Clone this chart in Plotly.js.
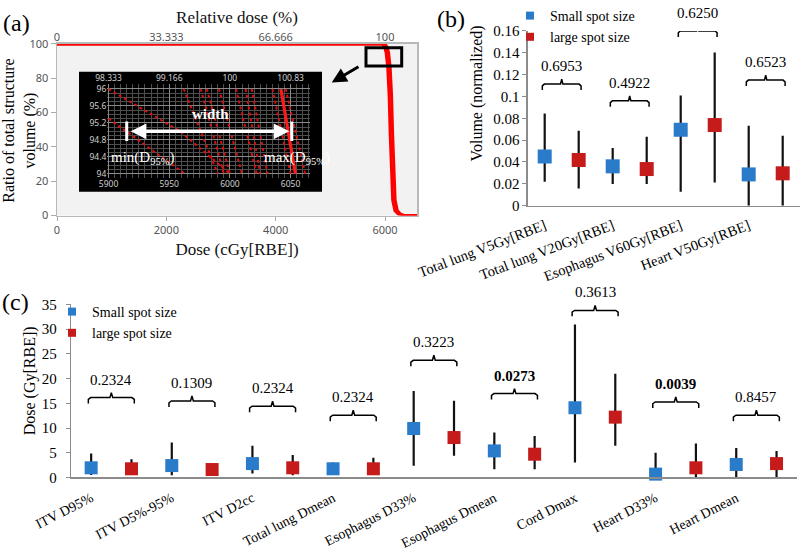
<!DOCTYPE html>
<html><head><meta charset="utf-8">
<script src="https://cdn.plot.ly/plotly-3.0.1.min.js"></script>
<style>html,body{margin:0;padding:0;background:#fff}#chart{width:800px;height:552px}</style>
</head><body><div id="chart"></div>
<script>
// ---------------- data ----------------
// (a) cumulative DVH band (two edge curves of the bundle)
const dvhVolume = [100, 100, 98, 95, 86, 70, 47, 25, 9, 3, 1, 0.2, 0, 0];
const dvhDoseA  = [0, 5950, 5995, 6020, 6050, 6075, 6095, 6115, 6140, 6180, 6235, 6290, 6340, 6585];
const dvhDoseB  = [0, 6000, 6040, 6065, 6095, 6120, 6140, 6160, 6185, 6225, 6280, 6335, 6380, 6585];
const prescribedDose = 6000;
const mainDoseTicks = [0, 2000, 4000, 6000];
const mainRelTickText = ['0', '33.333', '66.666', '100'];
const mainVolTicks = [0, 20, 40, 60, 80, 100];
// (a) inset: zoomed DVH curves
const insetCurveADose = [5900, 5959, 6000];
const insetCurveAVol  = [96, 95.0, 94.0];
const insetCurveBDose = [5900, 5963];
const insetCurveBVol  = [95.3, 94.0];
const insetSteepTopDose    = [5962, 5976, 5981, 5991, 6005, 6013, 6018, 6035, 6046]; // dose at 96 %
const insetSteepBottomDose = [5990, 5995, 6000, 6010, 6022, 6025, 6031, 6050, 6062]; // dose at 94 %
const insetBoldDose = [6042, 6054];
const insetBoldVol  = [96, 94];
const insetDoseTicks = [5900, 5950, 6000, 6050];
const insetRelTickText = ['98.333', '99.166', '100', '100.83'];
const insetVolTicks = [94, 94.4, 94.8, 95.2, 95.6, 96];
const d95Min = 5915, d95Max = 6051, d95Level = 95;

// (b) normalized volume
const bCategories = ['Total lung V5Gy[RBE]', 'Total lung V20Gy[RBE]', 'Esophagus V60Gy[RBE]', 'Heart V50Gy[RBE]'];
const bSmallMean = [0.0450, 0.0360, 0.0695, 0.0286];
const bSmallMax  = [0.0844, 0.0527, 0.1009, 0.0731];
const bSmallMin  = [0.0219, 0.0198, 0.0128, 0.0000];
const bLargeMean = [0.0418, 0.0335, 0.0738, 0.0296];
const bLargeMax  = [0.0686, 0.0631, 0.1402, 0.0640];
const bLargeMin  = [0.0158, 0.0198, 0.0213, 0.0000];
const bPValues   = ['0.6953', '0.4922', '0.6250', '0.6523'];
const bBracketLevel = [0.1113, 0.096, 0.160, 0.115];
const bYTicks = [0, 0.02, 0.04, 0.06, 0.08, 0.1, 0.12, 0.14, 0.16];

// (c) dose
const cCategories = ['ITV D95%', 'ITV D5%-95%', 'ITV D2cc', 'Total lung Dmean', 'Esophagus D33%', 'Esophagus Dmean', 'Cord Dmax', 'Heart D33%', 'Heart Dmean'];
const cSmallMean = [1.95, 2.40, 2.80, 1.75, 9.90, 5.37, 14.10, 0.67, 2.62];
const cSmallMax  = [4.85, 7.07, 6.40, 3.00, 17.50, 9.08, 30.96, 4.97, 5.98];
const cSmallMin  = [0.47, 0.45, 0.80, 1.00, 2.35, 1.68, 3.03, 0.00, 0.00];
const cLargeMean = [1.75, 1.60, 1.95, 1.75, 8.07, 4.70, 12.20, 1.95, 2.80];
const cLargeMax  = [3.70, 1.90, 4.56, 3.96, 15.50, 8.40, 21.00, 6.86, 5.37];
const cLargeMin  = [1.00, 1.30, 0.45, 0.80, 4.37, 1.68, 6.40, 0.00, 0.00];
const cPValues   = ['0.2324', '0.1309', '0.2324', '0.2324', '0.3223', '0.0273', '0.3613', '0.0039', '0.8457'];
const cBracketLevel = [16.15, 15.47, 14.4, 12.58, 23.7, 16.96, 33.8, 15.27, 12.58];
const cYTicks = [0, 5, 10, 15, 20, 25, 30, 35];

// ---------------- style ----------------
const SERIF = 'Liberation Serif, Times New Roman, serif';
const SANS = 'Noto Sans, Open Sans, DejaVu Sans, sans-serif';
const BLUE = '#2a7bc9', RED = '#c51b1b';
const AX = '#8c8c8c';
const W = 800, H = 552;
const px = v => v / W, py = v => 1 - v / H;

const traces = [];

// (a) main DVH
[dvhDoseA, dvhDoseB].forEach(d => traces.push({
  x: d, y: dvhVolume, xaxis: 'x', yaxis: 'y', mode: 'lines',
  line: {color: '#ff0000', width: 3}, cliponaxis: false, showlegend: false, hoverinfo: 'skip'
}));
// empty traces so the relative-dose (top) axes get drawn
traces.push({x: [null], y: [null], xaxis: 'x2', yaxis: 'y', mode: 'lines', showlegend: false, hoverinfo: 'skip'});
traces.push({x: [null], y: [null], xaxis: 'x4', yaxis: 'y3', mode: 'lines', showlegend: false, hoverinfo: 'skip'});

// (a) inset
const steepX = [], steepY = [];
insetSteepTopDose.forEach((t, i) => { steepX.push(t, insetSteepBottomDose[i], null); steepY.push(96, 94, null); });
traces.push({x: insetCurveADose, y: insetCurveAVol, xaxis: 'x3', yaxis: 'y3', mode: 'lines',
  line: {color: '#d81010', width: 2, dash: 'dot'}, showlegend: false, hoverinfo: 'skip'});
traces.push({x: insetCurveBDose, y: insetCurveBVol, xaxis: 'x3', yaxis: 'y3', mode: 'lines',
  line: {color: '#d81010', width: 2, dash: 'dot'}, showlegend: false, hoverinfo: 'skip'});
traces.push({x: steepX, y: steepY, xaxis: 'x3', yaxis: 'y3', mode: 'lines',
  line: {color: '#d81010', width: 2, dash: 'dot'}, showlegend: false, hoverinfo: 'skip', connectgaps: false});
traces.push({x: insetBoldDose, y: insetBoldVol, xaxis: 'x3', yaxis: 'y3', mode: 'lines',
  line: {color: '#ff1a1a', width: 3.2}, showlegend: false, hoverinfo: 'skip'});
// end bars of the width arrow (at D95 min / max)
traces.push({x: [d95Min, d95Min, null, d95Max, d95Max], y: [d95Level - 0.23, d95Level + 0.23, null, d95Level - 0.23, d95Level + 0.23],
  xaxis: 'x3', yaxis: 'y3', mode: 'lines', line: {color: '#ffffff', width: 3}, showlegend: false, hoverinfo: 'skip', cliponaxis: false});

// helper: mean markers with min/max range bars
function seriesTrace(xs, mean, mx, mn, color, xa, ya, size) {
  return {
    x: xs, y: mean, xaxis: xa, yaxis: ya, mode: 'markers', showlegend: false, hoverinfo: 'skip',
    marker: {symbol: 'square', size: size, color: color},
    error_y: {type: 'data', symmetric: false,
      array: mean.map((m, i) => mx[i] - m), arrayminus: mean.map((m, i) => m - mn[i]),
      color: '#111', thickness: 2.2, width: 0},
    cliponaxis: false
  };
}
function legendTrace(name, color, xa, ya, legend) {
  return {x: [null], y: [null], xaxis: xa, yaxis: ya, mode: 'markers', name: name, legend: legend,
    marker: {symbol: 'square', size: 8, color: color}, hoverinfo: 'skip'};
}
function bracketTrace(levels, xa, ya, unitPerPx) {
  const xs = [], ys = [];
  const d = 6 * unitPerPx, t = 5 * unitPerPx, e = 0.06, em = 0.035;
  levels.forEach((lv, i) => {
    const x1 = 2 * i + 1 - 0.07, x2 = 2 * i + 2 + 0.07, xm = (x1 + x2) / 2;
    xs.push(x1, x1, x1 + e, xm - em, xm, xm + em, x2 - e, x2, x2, null);
    ys.push(lv - d, lv - 0.3 * d, lv, lv, lv + t, lv, lv, lv - 0.3 * d, lv - d, null);
  });
  return {x: xs, y: ys, xaxis: xa, yaxis: ya, mode: 'lines', line: {color: '#000', width: 1.5},
    showlegend: false, hoverinfo: 'skip', cliponaxis: false};
}
function pAnnotations(levels, pvals, xa, ya) {
  return levels.map((lv, i) => {
    const x1 = 2 * i + 1 - 0.07, x2 = 2 * i + 2 + 0.07;
    const bold = parseFloat(pvals[i]) < 0.05;
    return {x: (x1 + x2) / 2, y: lv, xref: xa, yref: ya, xanchor: 'center', yanchor: 'bottom', yshift: 8, showarrow: false,
      text: bold ? '<b>' + pvals[i] + '</b>' : pvals[i], font: {family: SERIF, size: 15, color: '#000'}};
  });
}
function paperText(text, x, y, size, angle) {
  return {text: text, xref: 'paper', yref: 'paper', x: px(x), y: py(y), xanchor: 'center', yanchor: 'middle',
    textangle: angle || 0, showarrow: false, font: {family: SERIF, size: size, color: '#000'}};
}

const bSmallX = bCategories.map((c, i) => 2 * i + 1), bLargeX = bCategories.map((c, i) => 2 * i + 2);
const cSmallX = cCategories.map((c, i) => 2 * i + 1), cLargeX = cCategories.map((c, i) => 2 * i + 2);

// (b)
traces.push(legendTrace('Small spot size', BLUE, 'x5', 'y5', 'legend'));
traces.push(legendTrace('large spot size', RED, 'x5', 'y5', 'legend'));
traces.push(bracketTrace(bBracketLevel, 'x5', 'y5', 0.16 / 175));
traces.push(seriesTrace(bSmallX, bSmallMean, bSmallMax, bSmallMin, BLUE, 'x5', 'y5', 14));
traces.push(seriesTrace(bLargeX, bLargeMean, bLargeMax, bLargeMin, RED, 'x5', 'y5', 14));
// (c)
traces.push(legendTrace('Small spot size', BLUE, 'x7', 'y7', 'legend2'));
traces.push(legendTrace('large spot size', RED, 'x7', 'y7', 'legend2'));
traces.push(bracketTrace(cBracketLevel, 'x7', 'y7', 35 / 173.3));
traces.push(seriesTrace(cSmallX, cSmallMean, cSmallMax, cSmallMin, BLUE, 'x7', 'y7', 13));
traces.push(seriesTrace(cLargeX, cLargeMean, cLargeMax, cLargeMin, RED, 'x7', 'y7', 13));

// ---------------- layout ----------------
const aRangeMax = 6585;
const base = {automargin: false, zeroline: false, showgrid: false, fixedrange: true};
const aTick = {family: SANS, size: 11, color: '#555'};

const layout = {
  width: W, height: H, margin: {l: 0, r: 0, t: 0, b: 0},
  paper_bgcolor: '#fff', plot_bgcolor: 'rgba(0,0,0,0)',
  showlegend: true,
  // (a) main
  xaxis: Object.assign({}, base, {domain: [px(57), px(417)], anchor: 'y', range: [0, aRangeMax],
    tickmode: 'array', tickvals: mainDoseTicks, ticks: 'outside', ticklen: 4, tickcolor: '#aaa',
    tickfont: aTick, showline: true, linecolor: '#b8b8b8', linewidth: 1.5, mirror: true,
    title: {text: 'Dose (cGy[RBE])', font: {family: SERIF, size: 17, color: '#111'}, standoff: 7}}),
  yaxis: Object.assign({}, base, {domain: [py(215), py(43)], anchor: 'x', range: [0, 100],
    tickmode: 'array', tickvals: mainVolTicks, ticks: 'outside', ticklen: 5, tickcolor: '#aaa',
    tickfont: aTick, showline: true, linecolor: '#b8b8b8', linewidth: 1.5, mirror: true}),
  xaxis2: Object.assign({}, base, {overlaying: 'x', anchor: 'y', side: 'top',
    range: [0, aRangeMax / prescribedDose * 100], tickmode: 'array',
    tickvals: mainDoseTicks.map(d => d / prescribedDose * 100), ticktext: mainRelTickText, ticks: '',
    tickfont: aTick, showline: false,
    title: {text: 'Relative dose (%)', font: {family: SERIF, size: 17, color: '#111'}, standoff: 0}}),
  // (a) inset
  xaxis3: Object.assign({}, base, {domain: [px(107.3), px(310)], anchor: 'y3', range: [5899, 6066],
    tickmode: 'array', tickvals: insetDoseTicks, ticks: '', tickfont: {family: SANS, size: 8.5, color: '#cfcfcf'},
    showgrid: true, gridcolor: '#8a8a8a', gridwidth: 1,
    minor: {tickmode: 'linear', tick0: 5900, dtick: 5, showgrid: true, gridcolor: '#4e4e4e', gridwidth: 1, ticks: ''}}),
  yaxis3: Object.assign({}, base, {domain: [py(177.3), py(83)], anchor: 'x3', range: [93.9, 96.12],
    tickmode: 'array', tickvals: insetVolTicks, ticktext: insetVolTicks.map(v => String(v)), ticks: '',
    tickfont: {family: SANS, size: 8.5, color: '#cfcfcf'},
    showgrid: true, gridcolor: '#8a8a8a', gridwidth: 1,
    minor: {tickmode: 'linear', tick0: 94, dtick: 0.1, showgrid: true, gridcolor: '#4e4e4e', gridwidth: 1, ticks: ''}}),
  xaxis4: Object.assign({}, base, {overlaying: 'x3', anchor: 'y3', side: 'top',
    range: [5899 / prescribedDose * 100, 6066 / prescribedDose * 100], tickmode: 'array',
    tickvals: insetDoseTicks.map(d => d / prescribedDose * 100), ticktext: insetRelTickText, ticks: '',
    tickfont: {family: SANS, size: 8.5, color: '#cfcfcf'}}),
  // (b)
  xaxis5: Object.assign({}, base, {domain: [px(527.7), px(799.7)], anchor: 'y5', range: [0.5, 8.5],
    tickmode: 'array', tickvals: bSmallX, ticktext: bCategories, tickangle: -21, ticks: '', ticklabelstandoff: 5,
    tickfont: {family: SERIF, size: 14.5, color: '#000'}, showline: true, linecolor: AX, linewidth: 1.3}),
  xaxis6: Object.assign({}, base, {overlaying: 'x5', anchor: 'y5', range: [0.5, 8.5], tickmode: 'array',
    tickvals: [0.5, 1.5, 2.5, 3.5, 4.5, 5.5, 6.5, 7.5, 8.5], showticklabels: false, ticks: 'outside',
    ticklen: 5, tickcolor: AX, tickwidth: 1.2, showline: false}),
  yaxis5: Object.assign({}, base, {domain: [py(205), py(30)], anchor: 'x5', range: [0, 0.16],
    tickmode: 'array', tickvals: bYTicks, ticktext: bYTicks.map(v => String(+v.toFixed(2))),
    ticks: 'outside', ticklen: 4, tickcolor: AX, tickfont: {family: SERIF, size: 15, color: '#000'},
    showline: true, linecolor: AX, linewidth: 1.3}),
  // (c)
  xaxis7: Object.assign({}, base, {domain: [px(71), px(796.7)], anchor: 'y7', range: [0.5, 18.5],
    tickmode: 'array', tickvals: cSmallX, ticktext: cCategories, tickangle: -27, ticks: '', ticklabelstandoff: 6,
    tickfont: {family: SERIF, size: 14, color: '#000'}, showline: true, linecolor: AX, linewidth: 1.3}),
  xaxis8: Object.assign({}, base, {overlaying: 'x7', anchor: 'y7', range: [0.5, 18.5], tickmode: 'array',
    tickvals: Array.from({length: 19}, (v, i) => i + 0.5), showticklabels: false, ticks: 'outside',
    ticklen: 5, tickcolor: AX, tickwidth: 1.2, showline: false}),
  yaxis7: Object.assign({}, base, {domain: [py(477.3), py(304)], anchor: 'x7', range: [0, 35],
    tickmode: 'array', tickvals: cYTicks, ticks: 'outside', ticklen: 4, tickcolor: AX,
    ticklabelstandoff: 6, tickfont: {family: SERIF, size: 15, color: '#000'},
    showline: true, linecolor: AX, linewidth: 1.3}),
  legend: {x: px(510), y: py(-1), xanchor: 'left', yanchor: 'top', bgcolor: 'rgba(0,0,0,0)',
    font: {family: SERIF, size: 14, color: '#000'}, tracegroupgap: 0},
  legend2: {x: px(52), y: py(296), xanchor: 'left', yanchor: 'top', bgcolor: 'rgba(0,0,0,0)',
    font: {family: SERIF, size: 14, color: '#000'}, tracegroupgap: 0},
  shapes: [
    {type: 'rect', xref: 'x domain', yref: 'y domain', x0: 0, x1: 1, y0: 0, y1: 1,
      fillcolor: '#f2f2f2', line: {width: 0}, layer: 'below'},
    {type: 'rect', xref: 'paper', yref: 'paper', x0: px(79), x1: px(322), y0: py(191), y1: py(71),
      fillcolor: '#000', line: {width: 0}, layer: 'below'},
    {type: 'rect', xref: 'x', yref: 'y', x0: 5652, x1: 6305, y0: 87.2, y1: 97.8,
      line: {color: '#000', width: 3}, fillcolor: 'rgba(0,0,0,0)', layer: 'above'}
  ],
  annotations: [
    paperText('(a)', 16, 22, 24),
    paperText('(b)', 451, 18, 24),
    paperText('(c)', 15, 302, 24),
    paperText('Ratio of total structure<br>volume (%)', 20, 130, 16, -90),
    paperText('Volume (normalized)', 476.7, 93, 16, -90),
    paperText('Dose (Gy[RBE])', 30, 381, 16, -90),
    // zoom pointer arrow
    {text: '', xref: 'x', yref: 'y', x: 5025, y: 77.5, axref: 'x', ayref: 'y', ax: 5542, ay: 87.2,
      showarrow: true, arrowhead: 2, arrowsize: 1, arrowwidth: 3, arrowcolor: '#000'},
    // width arrow between D95 min and max
    {text: '', xref: 'x3', yref: 'y3', x: d95Max - 2, y: d95Level, axref: 'x3', ayref: 'y3', ax: d95Min + 2, ay: d95Level,
      showarrow: true, arrowside: 'end+start', arrowhead: 2, arrowsize: 0.9, arrowwidth: 3.5, arrowcolor: '#fff'},
    {text: '<b>width</b>', xref: 'x3', yref: 'y3', x: 5984, y: 95.41, xanchor: 'center', yanchor: 'middle', showarrow: false, font: {family: SERIF, size: 15, color: '#fff'}},
    {text: 'min(D<sub>95%</sub>)', xref: 'x3', yref: 'y3', x: 5900, y: 94.38, xanchor: 'left', yanchor: 'middle', showarrow: false, font: {family: SERIF, size: 15, color: '#fff'}},
    {text: 'max(D<sub>95%</sub>)', xref: 'x3', yref: 'y3', x: 6026.5, y: 94.38, xanchor: 'left', yanchor: 'middle', showarrow: false, font: {family: SERIF, size: 15, color: '#fff'}}
  ].concat(pAnnotations(bBracketLevel, bPValues, 'x5', 'y5'), pAnnotations(cBracketLevel, cPValues, 'x7', 'y7'))
};

Plotly.newPlot('chart', traces, layout, {displayModeBar: false, staticPlot: true});
</script></body></html>
